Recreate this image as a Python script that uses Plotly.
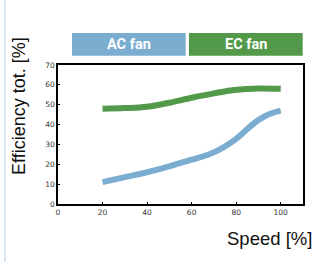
import plotly.graph_objects as go

speed_ac = [20, 30, 40, 50, 60, 70, 80, 85, 90, 95, 100]
eff_ac = [11, 13.5, 16, 19, 22.3, 26, 32.8, 37.8, 42.3, 45.3, 47]
speed_ec = [20, 30, 40, 50, 60, 70, 80, 90, 100]
eff_ec = [48, 48.3, 49, 51, 53.5, 55.7, 57.5, 58.2, 58]
x_ticks = [0, 20, 40, 60, 80, 100]
y_ticks = [0, 10, 20, 30, 40, 50, 60, 70]
series_names = ["AC fan", "EC fan"]
colors = ["#7aadd0", "#529a4a"]

fig = go.Figure()
fig.add_trace(go.Scatter(x=speed_ac, y=eff_ac, mode="lines", name=series_names[0],
                         line=dict(color=colors[0], width=6, shape="spline", smoothing=1.2)))
fig.add_trace(go.Scatter(x=speed_ec, y=eff_ec, mode="lines", name=series_names[1],
                         line=dict(color=colors[1], width=6, shape="spline")))

tickfont = dict(family="DejaVu Sans", size=7.5, color="#333333")
fig.update_xaxes(range=[0, 110], tickvals=x_ticks, showgrid=False, zeroline=False,
                 showline=True, linecolor="black", linewidth=1.5, mirror=True,
                 ticks="inside", ticklen=2, tickcolor="black", tickfont=tickfont)
fig.update_yaxes(range=[0, 70], tickvals=y_ticks, showgrid=False, zeroline=False,
                 showline=True, linecolor="black", linewidth=1.5, mirror=True,
                 ticks="inside", ticklen=2, tickcolor="black", tickfont=tickfont)

# plot area 58..303 x, 65..204 y
pw, ph = 245, 139
def px(x):
    return (x - 58) / pw
def py(y):
    return (204 - y) / ph

shapes = [
    dict(type="rect", xref="paper", yref="paper", x0=px(72), x1=px(185.7), y0=py(55.7), y1=py(33),
         fillcolor=colors[0], line=dict(width=0)),
    dict(type="rect", xref="paper", yref="paper", x0=px(189), x1=px(302.7), y0=py(55.7), y1=py(33),
         fillcolor=colors[1], line=dict(width=0)),
    dict(type="line", xref="paper", yref="paper", x0=px(5), x1=px(5), y0=py(262), y1=py(0),
         line=dict(color="#d5e5f2", width=2)),
]
box_font = dict(family="Liberation Sans Narrow, Arial Narrow, Roboto, sans-serif", size=14.5, color="white")
annotations = [
    dict(text="<b>" + series_names[0] + "</b>", xref="paper", yref="paper",
         x=px((72 + 185.7) / 2), y=py(44.5), xanchor="center", yanchor="middle", showarrow=False,
         font=box_font),
    dict(text="<b>" + series_names[1] + "</b>", xref="paper", yref="paper",
         x=px((189 + 302.7) / 2), y=py(44.5), xanchor="center", yanchor="middle", showarrow=False,
         font=box_font),
    dict(text="Efficiency tot. [%]", xref="paper", yref="paper", x=px(19), y=py(106),
         xanchor="center", yanchor="middle", showarrow=False, textangle=-90,
         font=dict(family="Liberation Sans, Arial, sans-serif", size=18, color="#111111")),
    dict(text="Speed [%]", xref="paper", yref="paper", x=px(314), y=py(238),
         xanchor="right", yanchor="middle", showarrow=False,
         font=dict(family="Liberation Sans, Arial, sans-serif", size=18.5, color="#111111")),
]

fig.update_layout(width=322, height=262, margin=dict(l=58, r=19, t=65, b=58),
                  paper_bgcolor="white", plot_bgcolor="white", showlegend=False,
                  shapes=shapes, annotations=annotations)
fig.write_html("out.html", config={"displayModeBar": False},
               post_script="document.body.style.margin='0';")
